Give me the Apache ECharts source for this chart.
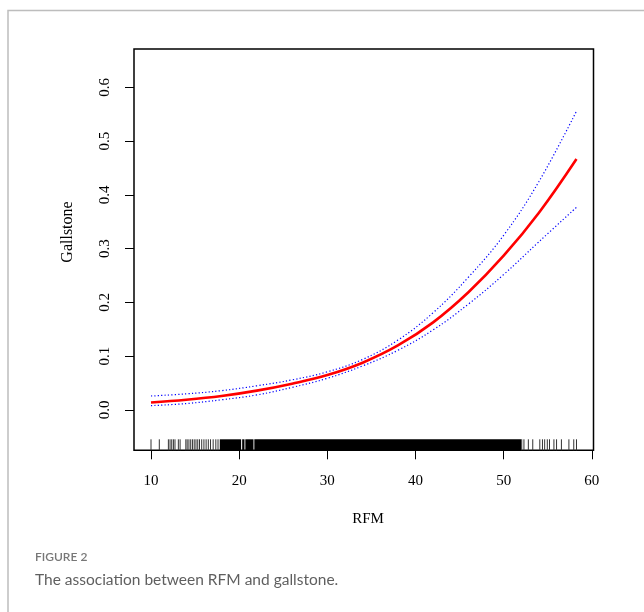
<!DOCTYPE html>
<html>
<head>
<meta charset="utf-8">
<script src="https://cdn.jsdelivr.net/npm/echarts@6/dist/echarts.min.js"></script>
<style>
html, body { margin: 0; background: #fff; }
#main { width: 644px; height: 612px; }
</style>
</head>
<body>
<div id="main"></div>
<script>
var rfm = [10, 14, 18, 22, 26, 30, 34, 38, 42, 46, 50, 54, 58.26];
var fit = [0.014, 0.019, 0.026, 0.036, 0.049, 0.065, 0.088, 0.120, 0.163, 0.219, 0.287, 0.367, 0.467];
var upper = [0.026, 0.030, 0.036, 0.045, 0.056, 0.071, 0.094, 0.130, 0.181, 0.247, 0.325, 0.425, 0.556];
var lower = [0.008, 0.012, 0.019, 0.028, 0.042, 0.059, 0.082, 0.111, 0.149, 0.197, 0.252, 0.313, 0.377];

var xTicks = [10, 20, 30, 40, 50, 60];
var yTicks = [0, 0.1, 0.2, 0.3, 0.4, 0.5, 0.6];

// rug: sparse observations at both ends, solid stretches in between
var rugValues = [10.0, 10.94, 11.97, 12.16, 12.35, 12.54, 12.72, 13.1, 13.3, 13.95, 14.1, 14.3,
    14.5, 14.7, 14.9, 15.1, 15.3, 15.5, 15.75, 16.0, 16.25, 16.5, 16.75, 17.05, 17.35, 17.6,
    52.05, 52.3, 52.8, 53.3, 54.1, 54.4, 54.65, 54.95, 55.2, 55.7, 56.0, 56.55, 57.4, 57.95, 58.26];
var rugDense = [[17.8, 20.22], [20.34, 20.6], [20.7, 21.62], [21.72, 52.0]];

var X_MIN = 8.07, X_MAX = 60.19, Y_MIN = -0.075, Y_MAX = 0.6716;
var RUG_LEN = 11;
var serif = 'Liberation Serif';

function pairs(xs, ys) {
    return xs.map(function (x, i) { return [x, ys[i]]; });
}

var chart = echarts.init(document.getElementById('main'));

chart.setOption({
    animation: false,
    backgroundColor: '#fff',
    grid: {
        left: 134,
        top: 49,
        width: 459.5,
        height: 401.3,
        show: true,
        borderColor: '#000',
        borderWidth: 1.5,
        backgroundColor: 'transparent'
    },
    xAxis: {
        type: 'value',
        min: X_MIN,
        max: X_MAX,
        axisLine: { show: false, onZero: false },
        splitLine: { show: false },
        axisTick: {
            show: true,
            length: 9,
            customValues: xTicks,
            lineStyle: { color: '#000', width: 1 }
        },
        axisLabel: {
            customValues: xTicks,
            margin: 23,
            color: '#000',
            fontFamily: serif,
            fontSize: 15
        }
    },
    yAxis: {
        type: 'value',
        min: Y_MIN,
        max: Y_MAX,
        axisLine: { show: false, onZero: false },
        splitLine: { show: false },
        axisTick: {
            show: true,
            length: 9,
            customValues: yTicks,
            lineStyle: { color: '#000', width: 1 }
        },
        axisLabel: {
            customValues: yTicks,
            rotate: 90,
            margin: 21,
            color: '#000',
            fontFamily: serif,
            fontSize: 15,
            formatter: function (v) { return v.toFixed(1); }
        }
    },
    graphic: [
        {
            type: 'polyline',
            shape: { points: [[8, 612], [8, 10.5], [644, 10.5]] },
            style: { stroke: '#bdbdbd', lineWidth: 1.5, fill: null }
        },
        {
            type: 'text',
            x: 68, y: 232, rotation: Math.PI / 2,
            style: { text: 'Gallstone', font: '16px "Liberation Serif"', fill: '#000', align: 'center', verticalAlign: 'middle' }
        },
        {
            type: 'text',
            x: 368, y: 519,
            style: { text: 'RFM', font: '15px "Liberation Serif"', fill: '#000', align: 'center', verticalAlign: 'middle' }
        },
        {
            type: 'text',
            x: 35, y: 557,
            style: { text: 'FIGURE 2', font: '600 12px Lato', fill: '#777', align: 'left', verticalAlign: 'middle' }
        },
        {
            type: 'text',
            x: 35, y: 580,
            style: { text: 'The association between RFM and gallstone.', font: '15.5px Lato', fill: '#5f5f5f', align: 'left', verticalAlign: 'middle' }
        }
    ],
    series: [
        {
            name: 'rug dense',
            type: 'custom',
            data: rugDense,
            encode: { x: [0, 1] },
            renderItem: function (params, api) {
                var a = api.coord([api.value(0), Y_MIN]);
                var b = api.coord([api.value(1), Y_MIN]);
                return {
                    type: 'rect',
                    shape: { x: a[0], y: a[1] - RUG_LEN, width: b[0] - a[0], height: RUG_LEN },
                    style: { fill: '#000' }
                };
            }
        },
        {
            name: 'rug',
            type: 'custom',
            data: rugValues.map(function (v) { return [v]; }),
            encode: { x: 0 },
            renderItem: function (params, api) {
                var p = api.coord([api.value(0), Y_MIN]);
                return {
                    type: 'line',
                    shape: { x1: p[0], y1: p[1], x2: p[0], y2: p[1] - RUG_LEN },
                    style: { stroke: '#333', lineWidth: 1 }
                };
            }
        },
        {
            name: 'upper',
            type: 'line',
            data: pairs(rfm, upper),
            smooth: 0.4,
            showSymbol: false,
            lineStyle: { color: '#0000ff', width: 1.2, type: [1.2, 2.2] }
        },
        {
            name: 'lower',
            type: 'line',
            data: pairs(rfm, lower),
            smooth: 0.4,
            showSymbol: false,
            lineStyle: { color: '#0000ff', width: 1.2, type: [1.2, 2.2] }
        },
        {
            name: 'fit',
            type: 'line',
            data: pairs(rfm, fit),
            smooth: 0.4,
            showSymbol: false,
            lineStyle: { color: '#ff0000', width: 2.6 }
        }
    ]
});
</script>
</body>
</html>
